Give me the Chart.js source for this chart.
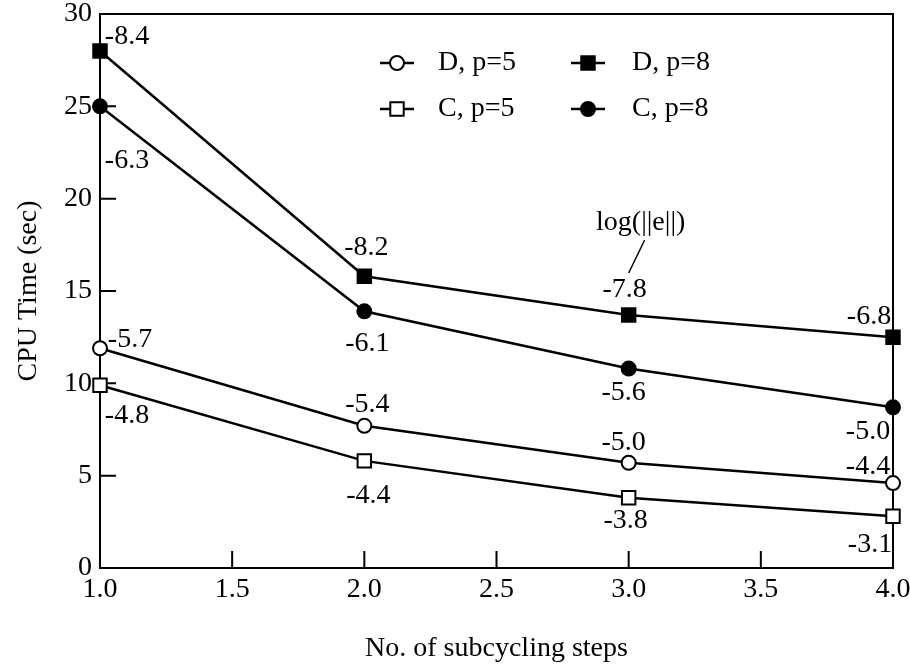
<!DOCTYPE html>
<html>
<head>
<meta charset="utf-8">
<title>CPU time vs subcycling steps</title>
<script src="https://cdn.jsdelivr.net/npm/chart.js@4.4.1/dist/chart.umd.min.js"></script>
<style>
  html, body { margin: 0; padding: 0; background: #fff; }
  #wrap { width: 910px; height: 665px; }
</style>
</head>
<body>
<div id="wrap"><canvas id="cpu-chart" width="910" height="665"></canvas></div>
<script>
// subcycling steps on the x axis
const STEPS = [1, 2, 3, 4];

// CPU time (sec) per series
const CPU_D5 = [11.9, 7.7, 5.7, 4.6];
const CPU_C5 = [9.9, 5.8, 3.8, 2.8];
const CPU_D8 = [28.0, 15.8, 13.7, 12.5];
const CPU_C8 = [25.0, 13.9, 10.8, 8.7];

// log(||e||) written next to each point
const ERR_D5 = ['-5.7', '-5.4', '-5.0', '-4.4'];
const ERR_C5 = ['-4.8', '-4.4', '-3.8', '-3.1'];
const ERR_D8 = ['-8.4', '-8.2', '-7.8', '-6.8'];
const ERR_C8 = ['-6.3', '-6.1', '-5.6', '-5.0'];

const X_TICKS = [1.0, 1.5, 2.0, 2.5, 3.0, 3.5, 4.0];
const Y_TICKS = [0, 5, 10, 15, 20, 25, 30];

// where each error label sits relative to its point (px)
const LABEL_OFFSETS = {
  D5: [[30, -9], [3, -21], [-5, -20], [-25, -16]],
  C5: [[27, 30], [4, 35], [-3, 23], [-23, 28]],
  D8: [[27, -14], [2, -29], [-4, -25], [-24, -21]],
  C8: [[27, 54], [3, 32], [-5, 24], [-25, 24]]
};

const SERIF = "'Liberation Serif', 'Times New Roman', serif";
const FONT_PX = 28;
Chart.defaults.font.family = SERIF;
Chart.defaults.color = '#000';

function pts(ys) {
  return STEPS.map((x, i) => ({ x: x, y: ys[i] }));
}

function series(key, label, ys, errs, style, filled) {
  return {
    key: key,
    label: label,
    data: pts(ys),
    errs: errs,
    borderColor: '#000',
    borderWidth: 2.5,
    pointStyle: style,
    pointRadius: style === 'rect' ? 9.5 : 7,
    pointHoverRadius: style === 'rect' ? 9.5 : 7,
    pointBorderWidth: 2,
    pointBackgroundColor: filled ? '#000' : '#fff',
    pointBorderColor: '#000',
    tension: 0,
    clip: false
  };
}

// frame + inward ticks, drawn under the points
const framePlugin = {
  id: 'frame',
  beforeDatasetsDraw(chart) {
    const { ctx, chartArea: a, scales } = chart;
    ctx.save();
    ctx.strokeStyle = '#000';
    ctx.lineWidth = 2;
    ctx.strokeRect(a.left, a.top, a.right - a.left, a.bottom - a.top);
    ctx.beginPath();
    Y_TICKS.forEach(v => {
      if (v === 0 || v === 30) return;
      const y = scales.y.getPixelForValue(v);
      ctx.moveTo(a.left, y);
      ctx.lineTo(a.left + 16, y);
    });
    X_TICKS.forEach(v => {
      if (v === 1 || v === 4) return;
      const x = scales.x.getPixelForValue(v);
      ctx.moveTo(x, a.bottom);
      ctx.lineTo(x, a.bottom - 17);
    });
    ctx.stroke();
    ctx.restore();
  }
};

// error labels, the log(||e||) note and the legend block
const labelPlugin = {
  id: 'errLabels',
  afterDatasetsDraw(chart) {
    const { ctx, scales } = chart;
    ctx.save();
    ctx.fillStyle = '#000';
    ctx.font = FONT_PX + 'px ' + SERIF;
    ctx.textAlign = 'center';
    ctx.textBaseline = 'middle';
    chart.data.datasets.forEach(ds => {
      const offs = LABEL_OFFSETS[ds.key];
      ds.data.forEach((p, i) => {
        const x = scales.x.getPixelForValue(p.x);
        const y = scales.y.getPixelForValue(p.y);
        ctx.fillText(ds.errs[i], x + offs[i][0], y + offs[i][1]);
      });
    });

    // note with leader line, hung off the D, p=8 point at 3 steps
    const d8 = chart.data.datasets.find(ds => ds.key === 'D8');
    const ax = scales.x.getPixelForValue(d8.data[2].x);
    const ay = scales.y.getPixelForValue(d8.data[2].y);
    ctx.fillText('log(||e||)', ax + 12, ay - 92);
    ctx.strokeStyle = '#000';
    ctx.lineWidth = 1.5;
    ctx.beginPath();
    ctx.moveTo(ax + 16, ay - 75);
    ctx.lineTo(ax, ay - 42);
    ctx.stroke();

    // legend: two columns, two rows
    const colMark = [397, 588];
    const colText = [438, 632];
    const rowY = [63, 109];
    ctx.textAlign = 'left';
    chart.data.datasets.forEach((ds, i) => {
      const c = i >> 1, r = i & 1;
      const mx = colMark[c], my = rowY[r];
      ctx.lineWidth = 2.5;
      ctx.beginPath();
      ctx.moveTo(mx - 17, my);
      ctx.lineTo(mx + 17, my);
      ctx.stroke();
      ctx.fillStyle = ds.pointBackgroundColor;
      ctx.strokeStyle = '#000';
      ctx.lineWidth = 2;
      Chart.helpers.drawPoint(ctx, {
        pointStyle: ds.pointStyle,
        radius: ds.pointRadius,
        rotation: 0,
        borderWidth: 2
      }, mx, my);
      ctx.fillStyle = '#000';
      ctx.fillText(ds.label, colText[c], my);
    });
    ctx.restore();
  }
};

new Chart(document.getElementById('cpu-chart'), {
  type: 'line',
  data: {
    datasets: [
      series('D5', 'D, p=5', CPU_D5, ERR_D5, 'circle', false),
      series('C5', 'C, p=5', CPU_C5, ERR_C5, 'rect', false),
      series('D8', 'D, p=8', CPU_D8, ERR_D8, 'rect', true),
      series('C8', 'C, p=8', CPU_C8, ERR_C8, 'circle', true)
    ]
  },
  options: {
    responsive: false,
    animation: false,
    layout: { padding: { top: 14, right: 17, left: 0, bottom: 0 } },
    plugins: { legend: { display: false }, tooltip: { enabled: false } },
    scales: {
      x: {
        type: 'linear',
        min: 1,
        max: 4,
        afterBuildTicks: s => { s.ticks = X_TICKS.map(v => ({ value: v })); },
        afterFit: s => { s.height = 97; s.paddingLeft = 0; s.paddingRight = 0; },
        grid: { display: false, drawTicks: false },
        border: { display: false },
        ticks: {
          padding: 5,
          maxRotation: 0,
          font: { size: FONT_PX, family: SERIF },
          callback: v => Number(v).toFixed(1)
        },
        title: {
          display: true,
          text: 'No. of subcycling steps',
          font: { size: FONT_PX, family: SERIF },
          padding: { top: 0, bottom: 0 }
        }
      },
      y: {
        min: 0,
        max: 30,
        afterBuildTicks: s => { s.ticks = Y_TICKS.map(v => ({ value: v })); },
        afterFit: s => { s.width = 100; s.paddingTop = 0; s.paddingBottom = 0; },
        grid: { display: false, drawTicks: false },
        border: { display: false },
        ticks: {
          padding: 8,
          font: { size: FONT_PX, family: SERIF }
        },
        title: {
          display: true,
          text: 'CPU Time (sec)',
          font: { size: FONT_PX, family: SERIF },
          padding: { top: 12, bottom: 0 }
        }
      }
    }
  },
  plugins: [framePlugin, labelPlugin]
});
</script>
</body>
</html>
